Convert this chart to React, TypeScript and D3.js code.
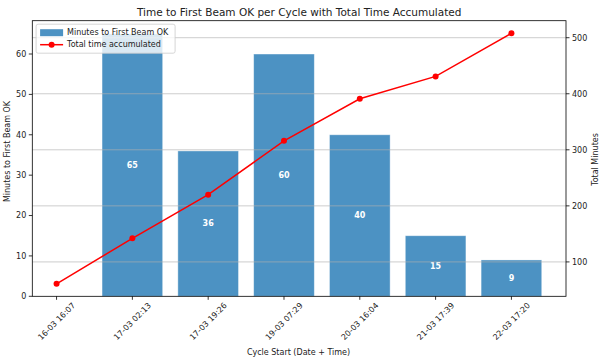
import React from 'react';
import * as d3 from 'd3';

const cycles = ['16-03 16:07', '17-03 02:13', '17-03 19:26', '19-03 07:29', '20-03 16:04', '21-03 17:39', '22-03 17:20'];
const minutesToBeam: (number | null)[] = [null, 65, 36, 60, 40, 15, 9];
const totalMinutes = [61, 142, 220, 316, 391, 431, 508];
const leftTicks = [0, 10, 20, 30, 40, 50, 60];
const rightTicks = [100, 200, 300, 400, 500];

const W = 604, H = 360;
const plot = { left: 32.3, right: 566, top: 20.7, bottom: 296.3 };
const font = 'DejaVu Sans, sans-serif';
const barColor = '#1f77b4';

export default function App() {
    const x = d3.scaleLinear().domain([-0.32, 6.72]).range([plot.left, plot.right]);
    const barMax = d3.max(minutesToBeam, d => d ?? 0) as number;
    const yLeft = d3.scaleLinear().domain([0, barMax * 1.05]).range([plot.bottom, plot.top]);
    const [tMin, tMax] = d3.extent(totalMinutes) as [number, number];
    const pad = (tMax - tMin) * 0.05;
    const yRight = d3.scaleLinear().domain([tMin - pad, tMax + pad]).range([plot.bottom, plot.top]);
    const bw = (x(0.8) - x(0));

    const line = d3.line<number>()
        .x((d, i) => x(i))
        .y(d => yRight(d));

    return (
        <svg width={W} height={H} style={{ position: 'absolute', left: 0, top: 0, background: '#fff' }} fontFamily={font}>
            <text x={(plot.left + plot.right) / 2} y={15.5} textAnchor="middle" fontSize={10.5} fill="#222">
                Time to First Beam OK per Cycle with Total Time Accumulated
            </text>
            {minutesToBeam.map((v, i) => v == null ? null : (
                <g key={'b' + i}>
                    <rect x={x(i) - bw / 2} y={yLeft(v)} width={bw} height={yLeft(0) - yLeft(v)}
                        fill={barColor} fillOpacity={0.8} stroke="#fff" strokeOpacity={0.5} strokeWidth={0.8} />
                    <text x={x(i)} y={yLeft(v / 2)} dy="0.35em" textAnchor="middle" fontSize={8}
                        fontWeight="bold" fill="#fff">{v}</text>
                </g>
            ))}
            {rightTicks.map(t => (
                <line key={'g' + t} x1={plot.left} x2={plot.right} y1={yRight(t)} y2={yRight(t)}
                    stroke="#b0b0b0" strokeOpacity={0.8} strokeWidth={0.8} />
            ))}
            <path d={line(totalMinutes) || ''} fill="none" stroke="red" strokeWidth={1.5} />
            {totalMinutes.map((v, i) => (
                <circle key={'p' + i} cx={x(i)} cy={yRight(v)} r={3} fill="red" />
            ))}
            <rect x={plot.left} y={plot.top} width={plot.right - plot.left} height={plot.bottom - plot.top}
                fill="none" stroke="#000" strokeWidth={0.8} />
            {leftTicks.map(t => (
                <g key={'l' + t}>
                    <line x1={plot.left - 3.5} x2={plot.left} y1={yLeft(t)} y2={yLeft(t)} stroke="#000" strokeWidth={0.8} />
                    <text x={plot.left - 6} y={yLeft(t)} dy="0.35em" textAnchor="end" fontSize={8} fill="#222">{t}</text>
                </g>
            ))}
            {rightTicks.map(t => (
                <g key={'r' + t}>
                    <line x1={plot.right} x2={plot.right + 3.5} y1={yRight(t)} y2={yRight(t)} stroke="#000" strokeWidth={0.8} />
                    <text x={plot.right + 6} y={yRight(t)} dy="0.35em" textAnchor="start" fontSize={8} fill="#222">{t}</text>
                </g>
            ))}
            {cycles.map((c, i) => (
                <g key={'x' + i}>
                    <line x1={x(i)} x2={x(i)} y1={plot.bottom} y2={plot.bottom + 3.5} stroke="#000" strokeWidth={0.8} />
                    <text transform={`translate(${x(i)},${plot.bottom + 25}) rotate(-45)`} textAnchor="middle"
                        dy="0.35em" fontSize={8} fill="#222">{c}</text>
                </g>
            ))}
            <text x={298.5} y={354.5} textAnchor="middle" fontSize={8} fill="#222">Cycle Start (Date + Time)</text>
            <text transform={`translate(9.5,151.5) rotate(-90)`} textAnchor="middle" fontSize={8} fill="#222">Minutes to First Beam OK</text>
            <text transform={`translate(597.5,159.5) rotate(-90)`} textAnchor="middle" fontSize={8} fill="#222">Total Minutes</text>
            <g transform={`translate(${plot.left + 3.8},${plot.top + 3.5})`}>
                <rect x={0} y={0} width={139} height={29} rx={2} fill="#fff" fillOpacity={0.8} stroke="#ccc" strokeWidth={0.8} />
                <rect x={4} y={5} width={23} height={7} fill={barColor} fillOpacity={0.8} />
                <text x={31} y={8.5} dy="0.35em" fontSize={8} fill="#222">Minutes to First Beam OK</text>
                <line x1={4} x2={27} y1={20.5} y2={20.5} stroke="red" strokeWidth={1.5} />
                <circle cx={15.5} cy={20.5} r={3} fill="red" />
                <text x={31} y={20.5} dy="0.35em" fontSize={8} fill="#222">Total time accumulated</text>
            </g>
        </svg>
    );
}
